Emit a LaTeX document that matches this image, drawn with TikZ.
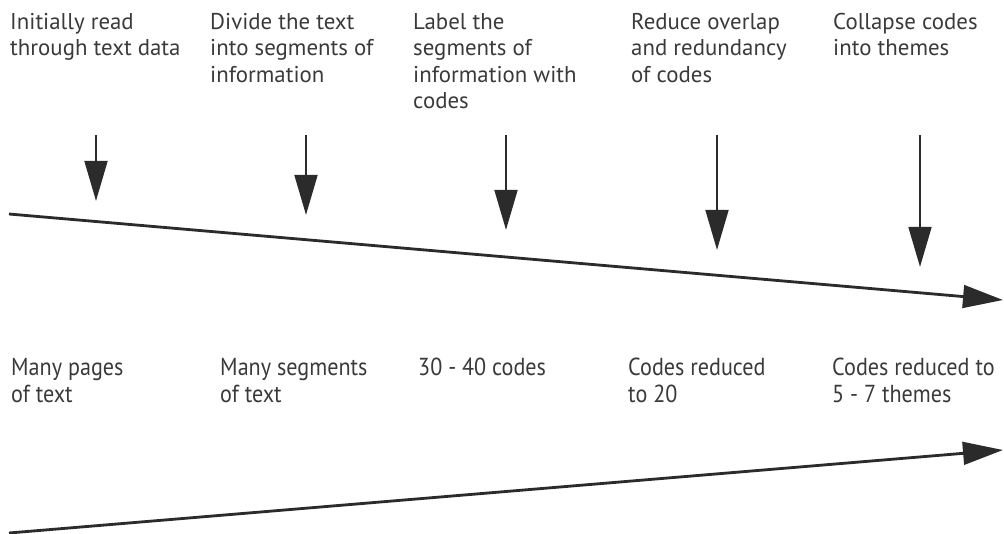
\documentclass[tikz,border=0pt]{standalone}
\usepackage{fontspec}
\setmainfont{PT Sans}
\newfontfamily\narrowfont[FakeStretch=0.9]{PT Sans}
\usetikzlibrary{arrows.meta}
\definecolor{inkgray}{HTML}{2B2B2B}
\definecolor{textgray}{HTML}{3A3A3A}
\begin{document}
\begin{tikzpicture}[x=0.03cm, y=-0.03cm,
        flow/.style={-{Triangle[length=1.2cm,width=0.68cm]}, draw=inkgray, fill=inkgray, line width=2.4pt},
        task/.style={anchor=north west, inner sep=0pt, align=left, text=textgray,
            font=\fontsize{19.5}{22.6}\selectfont},
        result/.style={anchor=north west, inner sep=0pt, align=left, text=textgray,
            font=\narrowfont\fontsize{21}{23}\selectfont}]
    \useasboundingbox (0,0) rectangle (1004,534);

    % steps along the top
    \node[task] (task1) at (10,13)  {Initially read\\through text data};
    \node[task] (task2) at (210,13) {Divide the text\\into segments of\\information};
    \node[task] (task3) at (413,13) {Label the\\segments of\\information with\\codes};
    \node[task] (task4) at (631,13) {Reduce overlap\\and redundancy\\of codes};
    \node[task] (task5) at (833,13) {Collapse codes\\into themes};

    % arrows down onto the falling line
    \foreach \x/\tip [count=\i] in {96/201, 306/215, 506/230, 717/250, 920/267}{
        \coordinate (top\i) at (\x,135);
        \coordinate (tip\i) at (\x,\tip);
        \draw[flow] (top\i) -- (tip\i);
    }

    % falling line: text to be read
    \coordinate (fallstart) at (9,214);
    \coordinate (fallend) at (1003,300);
    \draw[flow] (fallstart) -- (fallend);

    % results below
    \node[result] (res1) at (11,358)  {Many pages\\of text};
    \node[result] (res2) at (220,358) {Many segments\\of text};
    \node[result] (res3) at (418,358) {30 - 40 codes};
    \node[result] (res4) at (628,358) {Codes reduced\\to 20};
    \node[result] (res5) at (832,358) {Codes reduced to\\5 - 7 themes};

    % rising line: codes and themes
    \coordinate (risestart) at (9,533);
    \coordinate (riseend) at (1003,450);
    \draw[flow] (risestart) -- (riseend);
\end{tikzpicture}
\end{document}
